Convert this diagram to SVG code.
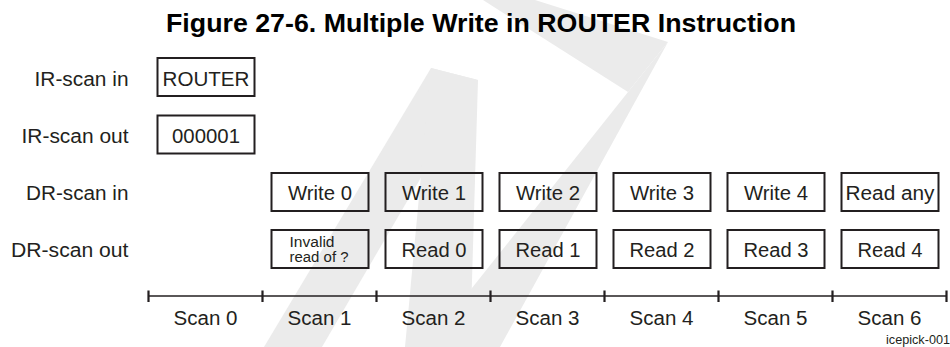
<svg xmlns="http://www.w3.org/2000/svg" width="950" height="347" viewBox="0 0 950 347">
<style>
.bx{fill:none;stroke:#231f20;stroke-width:2}
.t{font-family:"Liberation Sans",Arial,sans-serif;font-size:19.5px;fill:#231f20}
.c{text-anchor:middle}
.e{text-anchor:end}
.sm{font-size:14px}
.ti{font-family:"Liberation Sans",Arial,sans-serif;font-size:25px;font-weight:bold;fill:#000}
.wm{fill:#ebebeb}
.ax{stroke:#231f20;stroke-width:1.3;fill:none}
.tk{stroke:#231f20;stroke-width:2.2}
</style>
<rect width="950" height="347" fill="#fff"/>
<g id="watermark">
<polygon class="wm" points="431,68 478,80 322,347 264,347"/>
<polygon class="wm" points="431,68 478,80 470,347 405,347"/>
<polygon class="wm" points="425,347 500,347 668,42 628,92"/>
<polygon class="wm" points="483,0 535,0 668,42 628,92"/>
</g>
<text class="ti" x="166" y="31.5" textLength="630" lengthAdjust="spacingAndGlyphs">Figure 27-6. Multiple Write in ROUTER Instruction</text>
<g id="labels">
<text class="t e" x="128.5" y="85.5" textLength="94" lengthAdjust="spacingAndGlyphs">IR-scan in</text>
<text class="t e" x="128.5" y="142.5" textLength="107" lengthAdjust="spacingAndGlyphs">IR-scan out</text>
<text class="t e" x="128.5" y="199.5" textLength="102.5" lengthAdjust="spacingAndGlyphs">DR-scan in</text>
<text class="t e" x="128.5" y="256.5" textLength="117.5" lengthAdjust="spacingAndGlyphs">DR-scan out</text>
</g>
<g id="n-router"><rect class="bx" x="157.5" y="58" width="97" height="38"/><text class="t c" x="206" y="85.5" textLength="87" lengthAdjust="spacingAndGlyphs">ROUTER</text></g>
<g id="n-000001"><rect class="bx" x="157.5" y="115.5" width="97" height="38"/><text class="t c" x="206" y="142.5" textLength="68" lengthAdjust="spacingAndGlyphs">000001</text></g>
<g id="n-write0"><rect class="bx" x="271.5" y="173" width="97" height="38"/><text class="t c" x="320" y="199.5" textLength="64" lengthAdjust="spacingAndGlyphs">Write 0</text></g>
<g id="n-write1"><rect class="bx" x="385.5" y="173" width="97" height="38"/><text class="t c" x="434" y="199.5" textLength="64" lengthAdjust="spacingAndGlyphs">Write 1</text></g>
<g id="n-write2"><rect class="bx" x="499.5" y="173" width="97" height="38"/><text class="t c" x="548" y="199.5" textLength="64" lengthAdjust="spacingAndGlyphs">Write 2</text></g>
<g id="n-write3"><rect class="bx" x="613.5" y="173" width="97" height="38"/><text class="t c" x="662" y="199.5" textLength="64" lengthAdjust="spacingAndGlyphs">Write 3</text></g>
<g id="n-write4"><rect class="bx" x="727.5" y="173" width="97" height="38"/><text class="t c" x="776" y="199.5" textLength="64" lengthAdjust="spacingAndGlyphs">Write 4</text></g>
<g id="n-readany"><rect class="bx" x="841.5" y="173" width="97" height="38"/><text class="t c" x="890" y="199.5" textLength="89" lengthAdjust="spacingAndGlyphs">Read any</text></g>
<g id="n-invalid"><rect class="bx" x="271.5" y="230" width="97" height="38"/><text class="t sm" x="289.5" y="246.5" textLength="45" lengthAdjust="spacingAndGlyphs">Invalid</text><text class="t sm" x="289.5" y="262" textLength="59" lengthAdjust="spacingAndGlyphs">read of ?</text></g>
<g id="n-read0"><rect class="bx" x="385.5" y="230" width="97" height="38"/><text class="t c" x="434" y="256.5" textLength="65" lengthAdjust="spacingAndGlyphs">Read 0</text></g>
<g id="n-read1"><rect class="bx" x="499.5" y="230" width="97" height="38"/><text class="t c" x="548" y="256.5" textLength="65" lengthAdjust="spacingAndGlyphs">Read 1</text></g>
<g id="n-read2"><rect class="bx" x="613.5" y="230" width="97" height="38"/><text class="t c" x="662" y="256.5" textLength="65" lengthAdjust="spacingAndGlyphs">Read 2</text></g>
<g id="n-read3"><rect class="bx" x="727.5" y="230" width="97" height="38"/><text class="t c" x="776" y="256.5" textLength="65" lengthAdjust="spacingAndGlyphs">Read 3</text></g>
<g id="n-read4"><rect class="bx" x="841.5" y="230" width="97" height="38"/><text class="t c" x="890" y="256.5" textLength="65" lengthAdjust="spacingAndGlyphs">Read 4</text></g>
<g id="connectors">
<line class="ax" x1="148.5" y1="296" x2="946.5" y2="296"/>
<path class="tk" d="M148.5 290.5V302M262.5 290.5V302M376.5 290.5V302M490.5 290.5V302M604.5 290.5V302M718.5 290.5V302M832.5 290.5V302M946.5 290.5V302"/>
</g>
<g id="scans">
<text class="t c" x="205.5" y="325" textLength="64" lengthAdjust="spacingAndGlyphs">Scan 0</text>
<text class="t c" x="319.5" y="325" textLength="64" lengthAdjust="spacingAndGlyphs">Scan 1</text>
<text class="t c" x="433.5" y="325" textLength="64" lengthAdjust="spacingAndGlyphs">Scan 2</text>
<text class="t c" x="547.5" y="325" textLength="64" lengthAdjust="spacingAndGlyphs">Scan 3</text>
<text class="t c" x="661.5" y="325" textLength="64" lengthAdjust="spacingAndGlyphs">Scan 4</text>
<text class="t c" x="775.5" y="325" textLength="64" lengthAdjust="spacingAndGlyphs">Scan 5</text>
<text class="t c" x="889.5" y="325" textLength="64" lengthAdjust="spacingAndGlyphs">Scan 6</text>
</g>
<text class="t" style="font-size:12px" x="886" y="344" textLength="64" lengthAdjust="spacingAndGlyphs">icepick-001</text>
</svg>
